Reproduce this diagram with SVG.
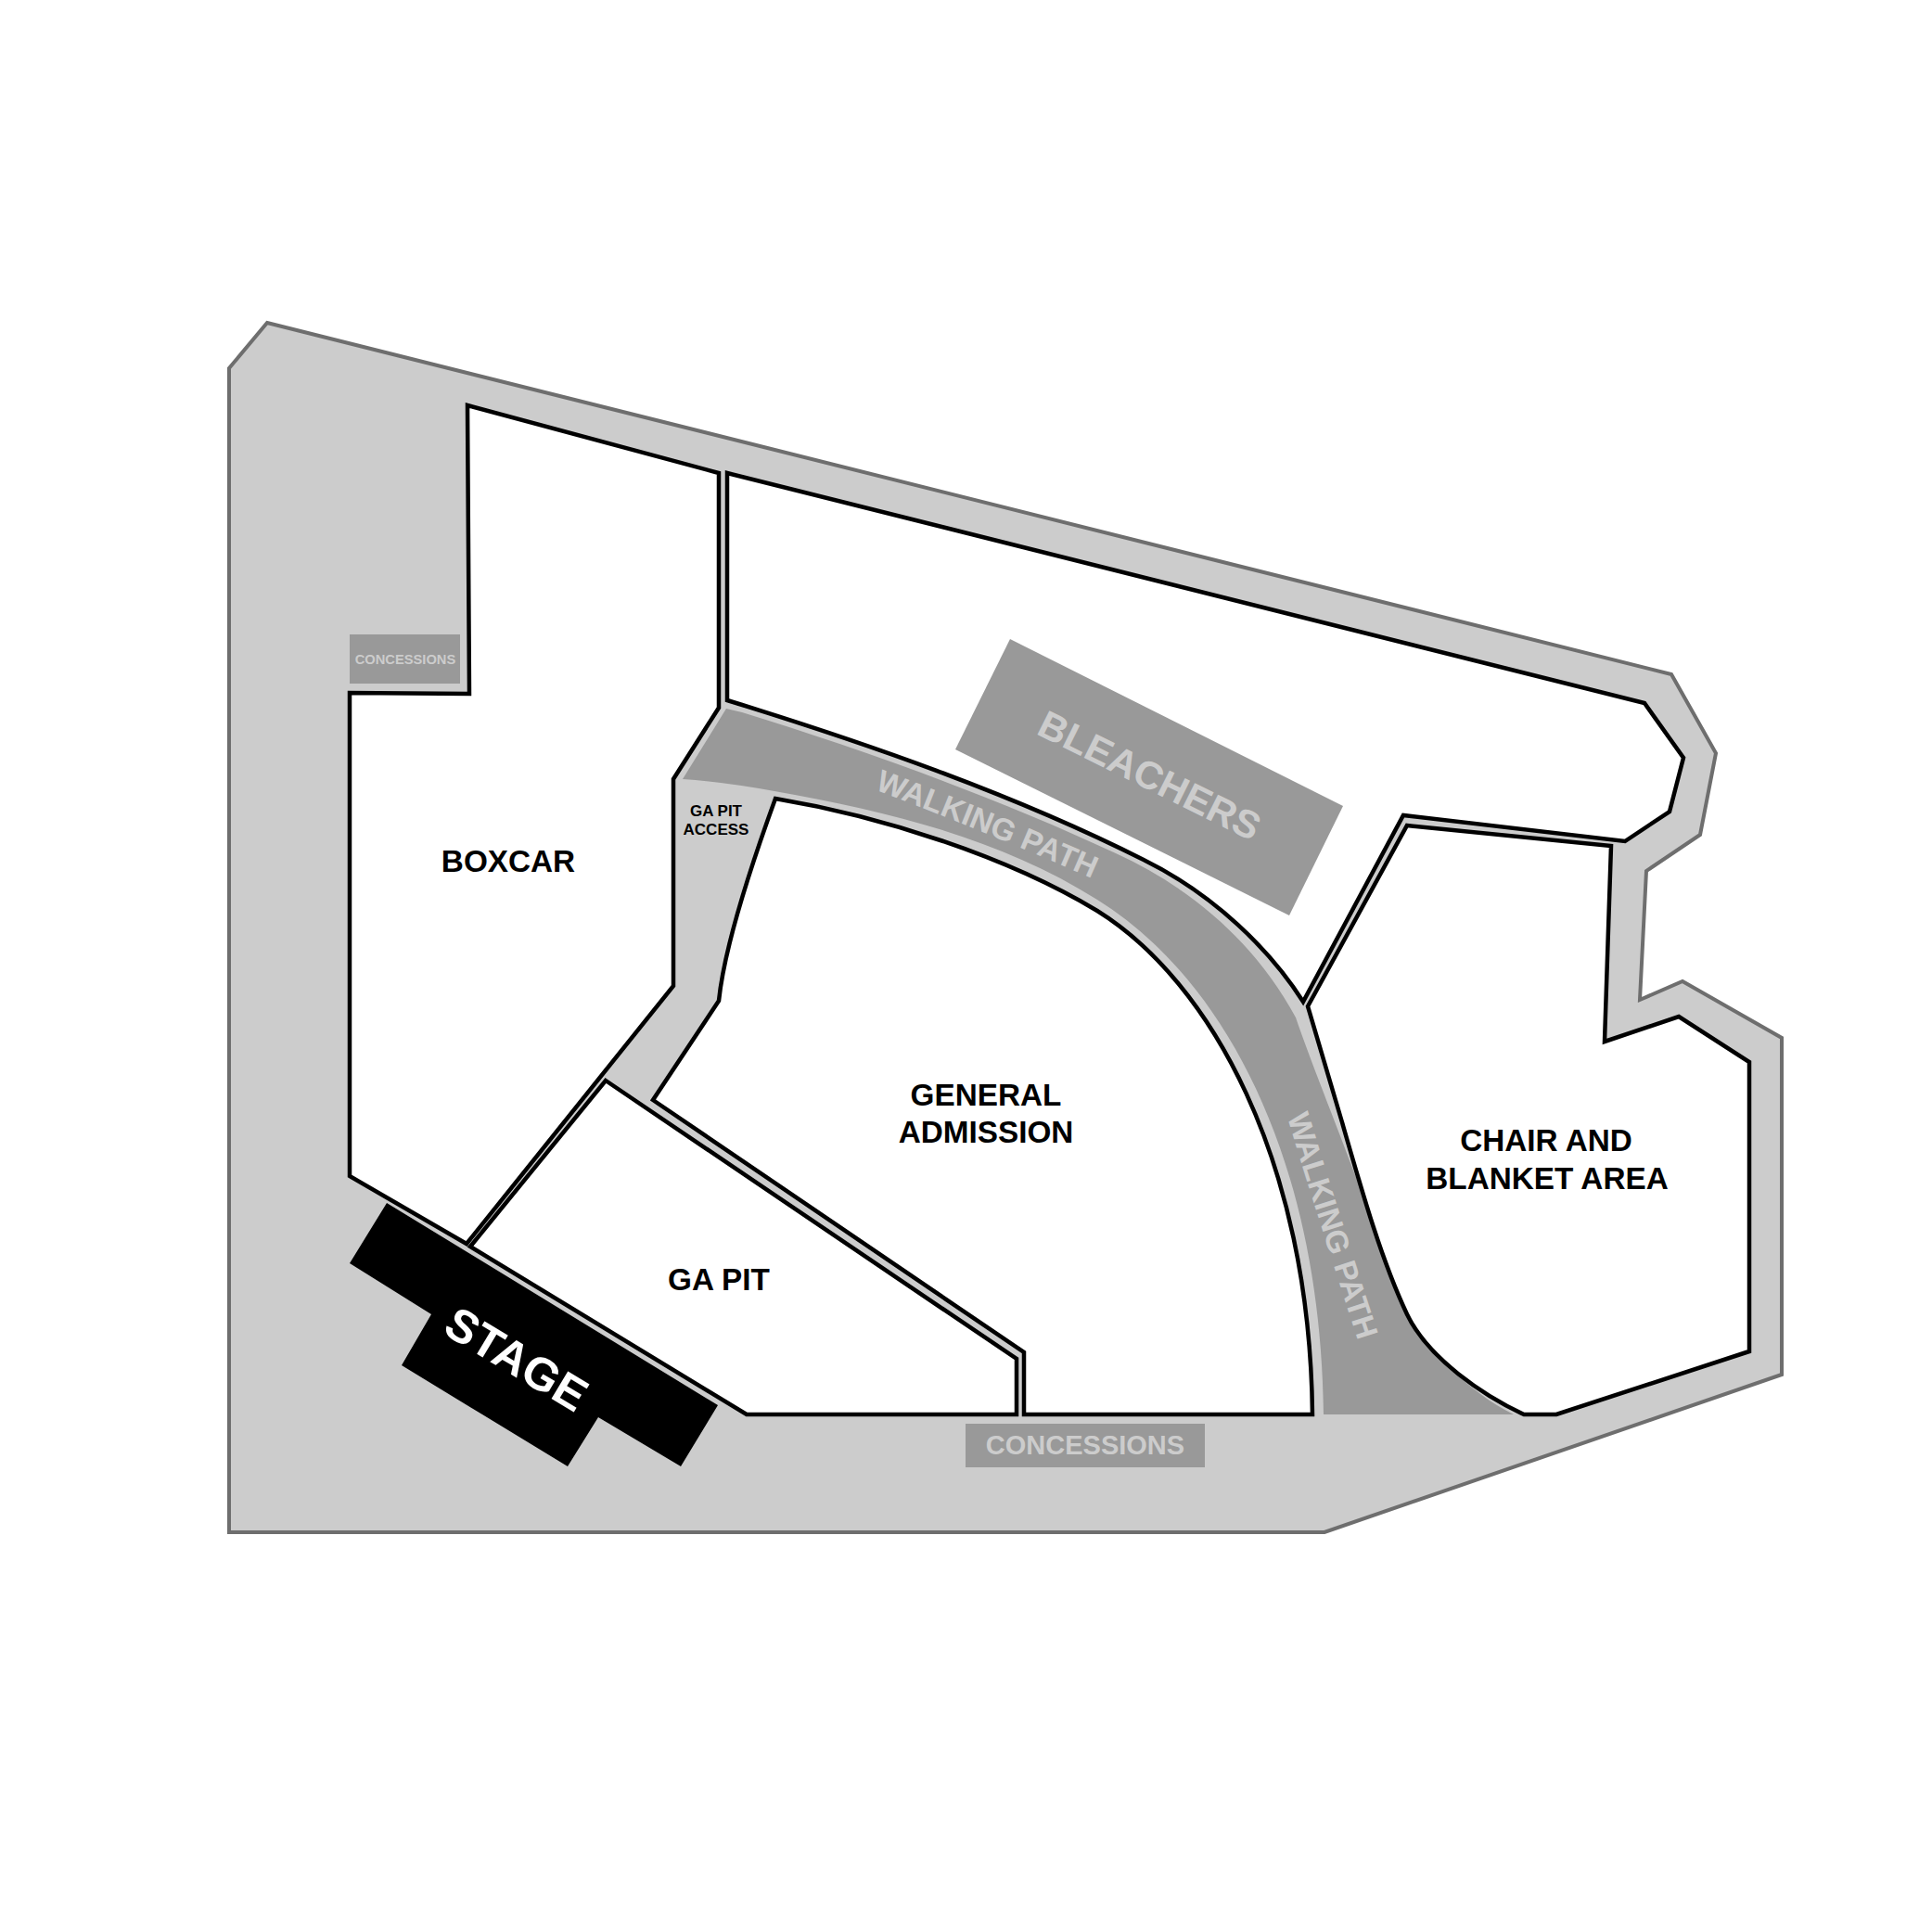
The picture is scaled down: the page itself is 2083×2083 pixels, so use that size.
<svg xmlns="http://www.w3.org/2000/svg" width="2083" height="2083" viewBox="0 0 2083 2083">
<style>
text{font-family:"Liberation Sans",Arial,sans-serif;font-weight:bold;text-anchor:middle}
.zone{fill:#fff;stroke:#000;stroke-width:4.5;stroke-linejoin:miter}
.lbl{font-size:33.3px;fill:#000}
.soft{fill:#ccc}
.dark{fill:#999}
</style>
<defs>
<path id="wp1" d="M943,851 Q1068,899 1177,947"/>
<path id="wp2" d="M1389,1208 Q1420,1310 1463,1442"/>
</defs>
<rect width="2083" height="2083" fill="#fff"/>
<g id="grounds"><path d="M288,348 L1802,727 L1850,812 L1833,900 L1775,939 L1768,1078 L1814,1058 L1921,1119 L1921,1482 L1428,1652 L247,1652 L247,397 Z" fill="#ccc" stroke="#6e6e6e" stroke-width="4"/></g>
<g id="walking-path">
<path class="dark" d="M783,764 L800,768 C930,808 1075,860 1203,920 C1290,960 1355,1020 1397,1097 C1415,1150 1452,1240 1477,1310 C1495,1365 1525,1470 1632,1525 L1427,1525 C1424,1250 1320,1055 1183,970 C1080,905 960,875 835,853 Q780,843 736,840 Z"/>
<text class="soft" font-size="33.500"><textPath href="#wp1" startOffset="50%">WALKING PATH</textPath></text>
<text class="soft" font-size="33.500"><textPath href="#wp2" startOffset="50%">WALKING PATH</textPath></text>
</g>
<g id="boxcar">
<path class="zone" d="M504,437 L775,510 L775,763 L726,840 L726,1063 L503,1341 L377,1268 L377,747 L506,748 Z"/>
<text class="lbl" x="548" y="940">BOXCAR</text>
</g>
<g id="bleachers-section">
<path class="zone" d="M784,510 L1773,758 L1815,817 L1800,875 L1752,907 L1513,879 L1405,1080 C1370,1025 1310,965 1233,927 C1090,855 930,800 784,755 Z"/>
<path class="dark" d="M1089,689 L1448,869 L1390,987 L1030,808 Z"/>
<text class="soft" font-size="42" transform="translate(1233,849) rotate(26.500)">BLEACHERS</text>
</g>
<g id="chair-blanket">
<path class="zone" d="M1517,890 L1737,912 L1730,1123 L1810,1096 L1886,1145 L1886,1457 L1678,1525 L1643,1525 C1600,1505 1540,1465 1517,1417 C1490,1360 1470,1290 1447,1210 L1410,1085 Z"/>
<text class="lbl" x="1667" y="1241">CHAIR AND</text>
<text class="lbl" x="1668" y="1282">BLANKET AREA</text>
</g>
<g id="general-admission">
<path class="zone" d="M836,861 C950,880 1085,923 1183,982 C1305,1058 1412,1250 1415,1525 L1104,1525 L1104,1458 L704,1186 L775,1079 C780,1030 800,960 836,861 Z"/>
<text class="lbl" x="1063" y="1192">GENERAL</text>
<text class="lbl" x="1063" y="1232">ADMISSION</text>
</g>
<g id="ga-pit">
<path class="zone" d="M653,1165 L1096,1465 L1096,1525 L805,1525 L507,1344 Z"/>
<text class="lbl" x="775" y="1391">GA PIT</text>
</g>
<g id="ga-pit-access">
<text font-size="17" fill="#000" x="772" y="880">GA PIT</text>
<text font-size="17" fill="#000" x="772" y="900">ACCESS</text>
</g>
<g id="stage">
<path d="M417,1297 L774,1515 L734,1581 L645,1528 L612,1581 L433,1472 L465,1417 L377,1362 Z" fill="#000"/>
<text font-size="50" fill="#fff" transform="translate(548,1480) rotate(31)">STAGE</text>
</g>
<g id="concessions-left">
<rect class="dark" x="377" y="684" width="119" height="53"/>
<text class="soft" font-size="14.700" x="437" y="716">CONCESSIONS</text>
</g>
<g id="concessions-bottom">
<rect class="dark" x="1041" y="1535" width="258" height="47"/>
<text class="soft" font-size="29" x="1170" y="1568">CONCESSIONS</text>
</g>
</svg>
